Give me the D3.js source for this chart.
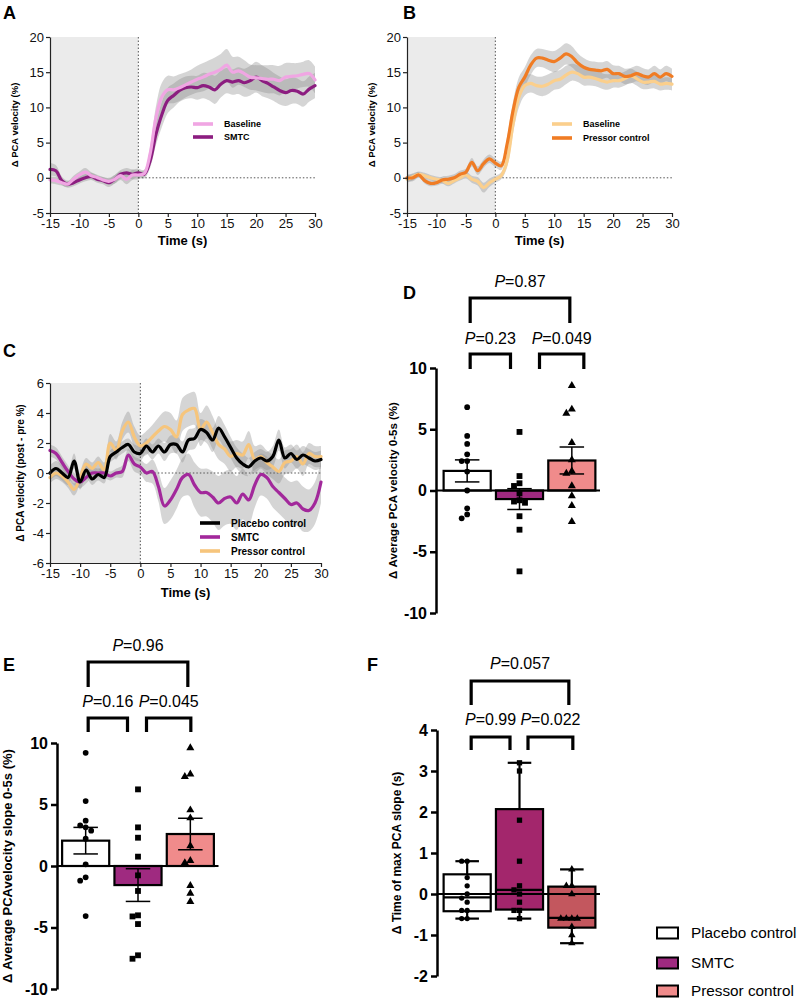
<!DOCTYPE html>
<html>
<head>
<meta charset="utf-8">
<script src="https://cdn.jsdelivr.net/npm/d3@7"></script>
<style>
  body { margin: 0; background: #fff; }
  svg { font-family: "Liberation Sans", Arial, Helvetica, sans-serif; }
</style>
</head>
<body>
<svg id="fig" width="800" height="1000"></svg>
<script>
// ---- data ----
const timeSec = [-15,-14,-13,-12,-11,-10,-9,-8,-7,-6,-5,-4,-3,-2,-1,0,1,2,3,4,5,6,7,8,9,10,11,12,13,14,15,16,17,18,19,20,21,22,23,24,25,26,27,28,29,30];
const timeTicks = [-15,-10,-5,0,5,10,15,20,25,30];
const abTicks = [-5,0,5,10,15,20];
const cTicks = [-6,-4,-2,0,2,4,6];
const barTicks = [-10,-5,0,5,10];
const fTicks = [-2,-1,0,1,2,3,4];

// panel A
const aBaseline = [-0.3,-0.4,-0.7,-0.9,-0.2,0.4,0.8,0.3,0.05,-0.3,-0.5,-0.2,0.3,-0.2,0.4,0.4,
  0.6,3.4,8.6,11.5,12.5,12.5,12.8,13.2,13.6,14,14.3,14.7,15,15.4,16,15,15.2,14.8,14.3,14.2,14.1,14,14,13.8,14.3,14.4,14.5,14.7,14.8,13.9];
const aBaselineSem = [0.5,0.5,0.4,0.4,0.5,0.5,0.6,0.5,0.4,0.4,0.5,0.6,0.6,0.7,0.7,0.6,
  0.5,1.0,1.6,2.0,2.0,1.9,1.9,1.8,1.8,1.9,2.0,2.0,2.1,2.2,2.3,2.2,2.0,1.9,1.8,1.8,1.9,2.0,2.0,2.1,2.0,1.9,1.8,1.8,1.9,1.9];
const aSmtc = [1.2,1.0,-0.4,-0.9,-0.7,-0.3,0,0.2,-0.2,-0.4,-0.7,-0.2,0.5,0.7,0.5,0.7,
  0.5,2.4,6.2,9.0,11,11.7,12.4,12.8,12.9,12.8,13.1,12.9,12.5,13.3,13.8,13.6,13.8,13.5,13.8,14.3,13.8,13.4,12.9,12.4,12.1,12.4,12.3,11.9,12.6,13.1];
const aSmtcSem = [0.9,0.8,0.6,0.5,0.5,0.5,0.5,0.5,0.5,0.5,0.6,0.6,0.6,0.7,0.7,0.6,
  0.6,1.0,1.5,1.8,1.8,1.7,1.6,1.6,1.6,1.7,1.8,1.9,2.0,1.9,1.8,1.8,1.9,2.0,2.1,2.2,2.2,2.1,2.0,2.0,1.9,1.9,1.8,1.8,1.8,1.8];

// panel B
const bBaseline = [-0.2,0.15,0.5,0.3,0,-0.2,-0.4,-0.8,-0.4,0,0.4,-0.2,-0.5,-1.4,-0.7,-0.2,
  0.3,2.4,7.6,11.5,13.1,13.4,13.1,13,13.3,13.8,14,14.6,15,14.8,14.3,14.3,14.1,13.8,13.6,13.8,13.8,14.1,14.5,14.1,13.6,13.6,13.7,13.3,13.4,13.3];
const bBaselineSem = [0.5,0.5,0.4,0.4,0.4,0.4,0.4,0.4,0.4,0.4,0.5,0.5,0.6,0.7,0.6,0.5,
  0.5,0.9,1.3,1.5,1.4,1.3,1.3,1.4,1.4,1.3,1.3,1.3,1.2,1.2,1.2,1.2,1.1,1.1,1.1,1.0,1.0,1.0,1.0,1.0,1.0,1.0,1.0,0.9,0.9,0.9];
const bPressor = [0,0,0.4,-0.4,-0.8,-0.7,-0.3,-0.2,0,0.5,0.8,2.2,1.0,2.0,2.7,2.1,
  1.7,4.8,9.5,12.9,14.3,16,17,17,16.7,16.5,17,17.6,17.2,16.3,15.7,15.4,15.3,15.2,15.4,14.8,14.8,14.4,14.5,14.8,14.5,14.3,14.8,14.3,14.8,14.4];
const bPressorSem = [0.5,0.5,0.4,0.4,0.4,0.4,0.5,0.5,0.5,0.5,0.5,0.6,0.6,0.6,0.6,0.6,
  0.6,1.0,1.3,1.4,1.4,1.4,1.3,1.3,1.4,1.5,1.5,1.5,1.5,1.4,1.3,1.2,1.2,1.2,1.2,1.2,1.1,1.1,1.1,1.1,1.1,1.1,1.1,1.1,1.1,1.1];

// panel C
const cPlacebo = [0,0.3,0,-0.3,0.8,-0.6,0.2,-0.4,-0.1,-0.3,1.1,1.4,1.7,1.9,1.4,1.3,
  1.8,1.4,1.8,1.4,1.9,1.9,1.4,2.2,2.3,2.9,2.7,2.2,3.0,2.4,1.7,1.0,0.6,0.4,0.8,1.0,0.8,1.1,2.2,1.0,1.3,0.9,1.2,1.0,0.8,0.9];
const cPlaceboSem = [0.5,0.5,0.5,0.5,0.5,0.5,0.5,0.4,0.4,0.4,0.4,0.4,0.4,0.4,0.5,0.5,
  0.5,0.5,0.5,0.6,0.6,0.6,0.7,0.7,0.7,0.7,0.7,0.8,0.8,0.8,0.7,0.7,0.7,0.6,0.6,0.6,0.6,0.7,0.7,0.7,0.6,0.6,0.6,0.6,0.6,0.6];
const cSmtc = [1.5,1.3,0.7,0.1,-0.4,-0.6,-0.3,0,0,0,-0.2,0,0.1,1.2,0.6,0.4,
  0,0.1,-0.9,-2.2,-1.8,-1.1,-0.3,-0.1,-0.8,-1.3,-1.3,-1.6,-2.0,-1.7,-1.6,-2.0,-1.4,-1.8,-0.8,-0.1,-0.3,-0.9,-1.3,-1.7,-2.1,-2.0,-2.4,-2.5,-2.0,-0.6];
const cSmtcSem = [0.4,0.4,0.4,0.4,0.4,0.4,0.4,0.3,0.3,0.3,0.3,0.3,0.4,0.4,0.5,0.5,
  0.6,0.8,1.0,1.2,1.3,1.3,1.3,1.4,1.5,1.6,1.6,1.7,1.8,1.8,1.8,1.8,1.7,1.6,1.5,1.4,1.4,1.4,1.4,1.4,1.5,1.5,1.5,1.4,1.4,1.4];
const cPressor = [-0.3,0,-0.2,-0.6,-1.1,-0.3,0.6,0.3,0.7,0.2,2.0,1.5,2.8,3.4,2.4,1.8,
  2.0,2.4,2.8,3.1,2.9,2.4,3.9,4.2,4.3,2.9,3.4,2.7,1.9,1.6,1.1,1.3,1.2,1.9,0.9,1.1,0.7,0.4,0.1,0.7,0.8,1.1,0.6,1.3,1.1,1.1];
const cPressorSem = [0.4,0.4,0.4,0.4,0.4,0.4,0.4,0.4,0.4,0.5,0.6,0.6,0.6,0.7,0.7,0.7,
  0.8,0.8,0.9,1.0,1.1,1.1,1.1,1.1,1.1,1.1,1.1,1.1,1.0,1.0,1.0,0.9,0.9,0.9,0.9,0.8,0.8,0.8,0.8,0.8,0.8,0.8,0.8,0.7,0.7,0.7];

// panels D, E, F
const groups = ["Placebo control", "SMTC", "Pressor control"];
const dPlacebo = [6.8,4.45,3.8,2.95,2.4,2.4,1.55,0,-1.45,-1.95,-2.27];
const dSmtc = [4.78,1.18,0.59,0.37,-0.23,-0.8,-0.9,-1.0,-2.1,-3.2,-6.6];
const dPressor = [8.56,6.63,6.3,3.9,2.49,1.57,1.4,0.37,-0.45,-1.24,-2.55];
const dMean = [1.6,-0.7,2.45];
const dSem = [0.9,0.85,1.1];
const dPvalues = ["0.23","0.049","0.87"];

const ePlacebo = [9.2,5.28,3.68,3.3,3.15,2.87,2.22,0.14,-0.92,-1.19,-4.07];
const eSmtc = [6.23,3.14,2.3,0.76,-0.76,-2.03,-4.01,-4.1,-4.72,-7.26,-7.54];
const ePressor = [9.6,7.46,7.26,4.55,3.9,1.63,0.43,0.26,-1.6,-2.22,-2.9];
const eMean = [2.06,-1.55,2.6];
const eSem = [1.08,1.33,1.28];
const ePvalues = ["0.16","0.045","0.96"];

const fPlacebo = [0.8,0.8,0.4,0.2,0,-0.1,-0.2,-0.4,-0.4,-0.6,-0.6];
const fSmtc = [3.2,3.0,1.8,0.8,0.2,0.1,0,-0.2,-0.4,-0.4,-0.6];
const fPressor = [0.6,0.2,0.2,0,-0.6,-0.6,-0.6,-0.6,-0.8,-1.0,-1.2];
const fMin = [-0.6,-0.6,-1.2];
const fQ1 = [-0.42,-0.38,-0.82];
const fMedian = [-0.08,0.1,-0.58];
const fQ3 = [0.48,2.07,0.18];
const fMax = [0.8,3.2,0.6];
const fPvalues = ["0.99","0.022","0.057"];

const barColors = ["#ffffff", "#9f2a80", "#f08b8b"];
const boxColors = ["#ffffff", "#a3266c", "#c3575e"];
const markers = [d3.symbolCircle, d3.symbolSquare, d3.symbolTriangle];

const svg = d3.select("#fig");
const plain = d => String(d);   // hyphen minus like the original

// ---- time course panels ----
function drawTrace(p) {
  const x = d3.scaleLinear().domain([-15, 30]).range([p.left, p.right]);
  const y = d3.scaleLinear().domain(p.yDomain).range([p.bottom, p.top]);
  const g = svg.append("g");
  const yTop = y(p.yDomain[1]), yBot = y(p.yDomain[0]);

  g.append("rect")
    .attr("x", x(-15)).attr("y", yTop)
    .attr("width", x(0) - x(-15)).attr("height", yBot - yTop)
    .attr("fill", "#ebebeb");

  const rows = s => s.values.map((v, i) => ({ t: timeSec[i], v: v, e: s.sem[i] }));
  const band = d3.area().curve(d3.curveCatmullRom)
    .x(d => x(d.t)).y0(d => y(d.v - d.e)).y1(d => y(d.v + d.e));
  p.series.forEach(s => {
    g.append("path").datum(rows(s)).attr("d", band)
      .attr("fill", "#8a8a8a").attr("fill-opacity", 0.36);
  });

  // dotted reference lines
  g.append("line").attr("x1", x(0)).attr("x2", x(0)).attr("y1", yTop).attr("y2", yBot)
    .attr("stroke", "#555").attr("stroke-width", 1).attr("stroke-dasharray", "1.5,2");
  g.append("line").attr("x1", x(0)).attr("x2", x(30)).attr("y1", y(0)).attr("y2", y(0))
    .attr("stroke", "#555").attr("stroke-width", 1).attr("stroke-dasharray", "1.5,2");

  const line = d3.line().curve(d3.curveCatmullRom).x(d => x(d.t)).y(d => y(d.v));
  p.series.forEach(s => {
    g.append("path").datum(rows(s)).attr("d", line)
      .attr("fill", "none").attr("stroke", s.color).attr("stroke-width", 3.2)
      .attr("stroke-linejoin", "round").attr("stroke-linecap", "round");
  });

  const thin = sel => {
    sel.select(".domain").attr("stroke", "#222").attr("stroke-width", 1.2);
    sel.selectAll(".tick line").attr("stroke", "#222").attr("stroke-width", 1.2);
    sel.selectAll(".tick text").attr("fill", "#111").style("font-size", "13px")
      .style("font-family", "'Liberation Sans', Arial, sans-serif");
  };
  g.append("g").attr("transform", `translate(0,${p.bottom})`)
    .call(d3.axisBottom(x).tickValues(timeTicks).tickFormat(plain).tickSize(4).tickSizeOuter(0).tickPadding(2))
    .call(thin);
  g.append("g").attr("transform", `translate(${p.left},0)`)
    .call(d3.axisLeft(y).tickValues(p.ticks).tickFormat(plain).tickSize(4).tickSizeOuter(0).tickPadding(2))
    .call(thin);

  g.append("text").attr("x", (p.left + p.right) / 2).attr("y", p.timeY)
    .attr("text-anchor", "middle").attr("font-weight", "bold").attr("font-size", 13)
    .text("Time (s)");
  g.append("text").attr("transform", `translate(${p.ylabX},${(yTop + yBot) / 2}) rotate(-90)`)
    .attr("text-anchor", "middle").attr("font-weight", "bold").attr("font-size", p.ylabSize)
    .text(p.ylab);

  // legend
  p.series.slice().sort((a, b) => a.order - b.order).forEach((s, i) => {
    const ly = p.legend.y + i * p.legend.gap;
    g.append("line").attr("x1", p.legend.x).attr("x2", p.legend.x + 20)
      .attr("y1", ly).attr("y2", ly).attr("stroke", s.color).attr("stroke-width", 3.6);
    g.append("text").attr("x", p.legend.x + 31).attr("y", ly).attr("dy", "0.35em")
      .attr("font-weight", "bold").attr("font-size", p.legend.size).text(s.name);
  });

  svg.append("text").attr("x", p.letterX).attr("y", p.letterY)
    .attr("font-weight", "bold").attr("font-size", 18).text(p.letter);
}

drawTrace({
  letter: "A", letterX: 3, letterY: 19,
  left: 50, right: 315, top: 37, bottom: 213, yDomain: [-5, 20], ticks: abTicks,
  timeY: 245, ylab: "\u0394 PCA velocity (%)", ylabX: 18, ylabSize: 9.5,
  legend: { x: 193, y: 124, gap: 13, size: 9 },
  series: [
    { name: "SMTC", values: aSmtc, sem: aSmtcSem, color: "#8c1d80", order: 1 },
    { name: "Baseline", values: aBaseline, sem: aBaselineSem, color: "#f0a6e3", order: 0 }
  ]
});

drawTrace({
  letter: "B", letterX: 403, letterY: 19,
  left: 407, right: 672, top: 37, bottom: 213, yDomain: [-5, 20], ticks: abTicks,
  timeY: 245, ylab: "\u0394 PCA velocity (%)", ylabX: 375, ylabSize: 9.5,
  legend: { x: 552, y: 124, gap: 14, size: 9 },
  series: [
    { name: "Baseline", values: bBaseline, sem: bBaselineSem, color: "#fbcf8c", order: 0 },
    { name: "Pressor control", values: bPressor, sem: bPressorSem, color: "#f07c24", order: 1 }
  ]
});

drawTrace({
  letter: "C", letterX: 3, letterY: 357,
  left: 50, right: 321, top: 383, bottom: 563, yDomain: [-6, 6], ticks: cTicks,
  timeY: 597, ylab: "\u0394 PCA velocity (post - pre %)", ylabX: 24, ylabSize: 10,
  legend: { x: 200, y: 523, gap: 14, size: 10 },
  series: [
    { name: "Pressor control", values: cPressor, sem: cPressorSem, color: "#f6c57c", order: 2 },
    { name: "SMTC", values: cSmtc, sem: cSmtcSem, color: "#a2289b", order: 1 },
    { name: "Placebo control", values: cPlacebo, sem: cPlaceboSem, color: "#000000", order: 0 }
  ]
});

// ---- group comparison panels ----
function spread(vals, y, step) {
  const placed = [];
  return vals.map(v => {
    const py = y(v);
    const offs = [0, -step, step, -2 * step, 2 * step];
    let dx = offs.find(o => placed.every(q => Math.hypot(q.dx - o, q.py - py) >= step));
    if (dx === undefined) dx = 0;
    placed.push({ dx, py });
    return { v, dx };
  });
}

function drawGroups(p) {
  const x = d3.scaleBand().domain(groups).range([p.left, p.right])
    .paddingInner(0.1).paddingOuter(0.05);
  const y = d3.scaleLinear().domain(p.yDomain).range([p.bottom, p.top]);
  const bw = x.bandwidth();
  const cx = k => x(groups[k]) + bw / 2;
  const g = svg.append("g");

  if (p.mean) {
    groups.forEach((grp, k) => {
      const m = p.mean[k];
      g.append("rect").attr("x", x(grp)).attr("width", bw)
        .attr("y", y(Math.max(0, m))).attr("height", Math.abs(y(m) - y(0)))
        .attr("fill", barColors[k]).attr("stroke", "#000").attr("stroke-width", 2.2);
    });
  }
  if (p.box) {
    groups.forEach((grp, k) => {
      const b = p.box;
      // whiskers
      g.append("line").attr("x1", cx(k)).attr("x2", cx(k)).attr("y1", y(b.max[k])).attr("y2", y(b.min[k]))
        .attr("stroke", "#000").attr("stroke-width", 2.2);
      [b.max[k], b.min[k]].forEach(w => {
        g.append("line").attr("x1", cx(k) - bw * 0.25).attr("x2", cx(k) + bw * 0.25)
          .attr("y1", y(w)).attr("y2", y(w)).attr("stroke", "#000").attr("stroke-width", 2.2);
      });
      g.append("rect").attr("x", x(grp)).attr("width", bw)
        .attr("y", y(b.q3[k])).attr("height", y(b.q1[k]) - y(b.q3[k]))
        .attr("fill", boxColors[k]).attr("stroke", "#000").attr("stroke-width", 2.2);
      g.append("line").attr("x1", x(grp)).attr("x2", x(grp) + bw)
        .attr("y1", y(b.median[k])).attr("y2", y(b.median[k]))
        .attr("stroke", "#000").attr("stroke-width", 2.2);
    });
  }

  // zero line
  g.append("line").attr("x1", p.axisX).attr("x2", p.right + 2)
    .attr("y1", y(0)).attr("y2", y(0)).attr("stroke", "#000").attr("stroke-width", 2.2);

  // individual points
  p.points.forEach((vals, k) => {
    spread(vals, y, 5.5).forEach(d => {
      g.append("path")
        .attr("d", d3.symbol().type(markers[k]).size(p.markerSize[k])())
        .attr("transform", `translate(${cx(k) + d.dx},${y(d.v)})`)
        .attr("fill", "#000");
    });
  });

  // mean +/- SEM
  if (p.mean) {
    groups.forEach((grp, k) => {
      const lo = y(p.mean[k] - p.sem[k]), hi = y(p.mean[k] + p.sem[k]);
      g.append("line").attr("x1", cx(k)).attr("x2", cx(k)).attr("y1", lo).attr("y2", hi)
        .attr("stroke", "#000").attr("stroke-width", 1.5);
      [lo, hi].forEach(yy => {
        g.append("line").attr("x1", cx(k) - bw * 0.26).attr("x2", cx(k) + bw * 0.26)
          .attr("y1", yy).attr("y2", yy).attr("stroke", "#000").attr("stroke-width", 1.5);
      });
    });
  }

  // axis
  g.append("g").attr("transform", `translate(${p.axisX},0)`)
    .call(d3.axisLeft(y).tickValues(p.ticks).tickFormat(plain).tickSize(6).tickSizeOuter(0).tickPadding(3))
    .call(sel => {
      sel.select(".domain").attr("stroke", "#000").attr("stroke-width", 2.5);
      sel.selectAll(".tick line").attr("stroke", "#000").attr("stroke-width", 2.5);
      sel.selectAll(".tick text").attr("fill", "#000").style("font-size", "16px")
        .style("font-weight", "bold").style("font-family", "'Liberation Sans', Arial, sans-serif");
    });

  g.append("text")
    .attr("transform", `translate(${p.ylabX},${(y(p.yDomain[0]) + y(p.yDomain[1])) / 2}) rotate(-90)`)
    .attr("text-anchor", "middle").attr("font-weight", "bold").attr("font-size", p.ylabSize)
    .text(p.ylab);

  // significance brackets
  p.brackets.forEach((b, i) => {
    const x1 = cx(b.a) + b.l, x2 = cx(b.b) + b.r;
    g.append("path")
      .attr("d", `M${x1},${b.bot}V${b.top}H${x2}V${b.bot}`)
      .attr("fill", "none").attr("stroke", "#000").attr("stroke-width", 3.2);
    const t = g.append("text").attr("x", (x1 + x2) / 2).attr("y", b.ty)
      .attr("text-anchor", "middle").attr("font-size", 16);
    t.append("tspan").attr("font-style", "italic").text("P");
    t.append("tspan").text("=" + p.pvalues[i]);
  });

  svg.append("text").attr("x", p.letterX).attr("y", p.letterY)
    .attr("font-weight", "bold").attr("font-size", 18).text(p.letter);
}

drawGroups({
  letter: "D", letterX: 403, letterY: 299,
  axisX: 436, left: 441, right: 598, top: 368, bottom: 613, yDomain: [-10, 10], ticks: barTicks,
  ylab: "\u0394 Average  PCA velocity 0-5s (%)", ylabX: 397, ylabSize: 11.5,
  points: [dPlacebo, dSmtc, dPressor], markerSize: [26, 34, 28],
  mean: dMean, sem: dSem, pvalues: dPvalues,
  brackets: [
    { a: 0, b: 1, l: 3, r: -9, top: 354, bot: 369, ty: 344 },
    { a: 1, b: 2, l: 20, r: 12, top: 354, bot: 369, ty: 344 },
    { a: 0, b: 2, l: 3, r: -2, top: 298, bot: 323, ty: 287 }
  ]
});

drawGroups({
  letter: "E", letterX: 3, letterY: 671,
  axisX: 57, left: 59.5, right: 216.5, top: 743, bottom: 989, yDomain: [-10, 10], ticks: barTicks,
  ylab: "\u0394 Average PCAvelocity slope 0-5s (%)", ylabX: 12, ylabSize: 13,
  points: [ePlacebo, eSmtc, ePressor], markerSize: [26, 34, 28],
  mean: eMean, sem: eSem, pvalues: ePvalues,
  brackets: [
    { a: 0, b: 1, l: 2.5, r: -10.5, top: 718, bot: 732, ty: 707 },
    { a: 1, b: 2, l: 8.5, r: 0.5, top: 718, bot: 732, ty: 707 },
    { a: 0, b: 2, l: 2.5, r: -2.5, top: 662, bot: 687, ty: 651 }
  ]
});

drawGroups({
  letter: "F", letterX: 367, letterY: 671,
  axisX: 437, left: 441, right: 598, top: 730, bottom: 976, yDomain: [-2, 4], ticks: fTicks,
  ylab: "\u0394 Time of max PCA slope  (s)", ylabX: 401, ylabSize: 12,
  points: [fPlacebo, fSmtc, fPressor], markerSize: [22, 28, 24],
  box: { min: fMin, q1: fQ1, median: fMedian, q3: fQ3, max: fMax }, pvalues: fPvalues,
  brackets: [
    { a: 0, b: 1, l: 4, r: -9.5, top: 737, bot: 750, ty: 725 },
    { a: 1, b: 2, l: 8.5, r: 1, top: 737, bot: 750, ty: 725 },
    { a: 0, b: 2, l: 4, r: -3, top: 681, bot: 705, ty: 669 }
  ]
});

// legend for D-F
groups.forEach((name, k) => {
  const ly = [933, 963, 991][k];
  svg.append("rect").attr("x", 657).attr("y", ly - 5.5).attr("width", 21).attr("height", 11)
    .attr("fill", barColors[k]).attr("stroke", "#000").attr("stroke-width", 2);
  svg.append("text").attr("x", 691).attr("y", ly).attr("dy", "0.35em")
    .attr("font-size", 15.3).text(name);
});
</script>
</body>
</html>
